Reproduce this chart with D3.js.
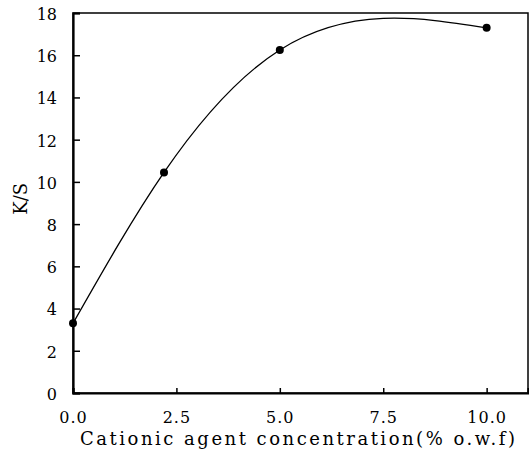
<!DOCTYPE html>
<html>
<head>
<meta charset="utf-8">
<script src="https://cdn.jsdelivr.net/npm/d3@7"></script>
<style>
  body { margin: 0; background: #fff; }
  text { font-family: "DejaVu Serif", serif; fill: #000; }
</style>
</head>
<body>
<svg id="chart" width="529" height="452"></svg>
<script>
// data
var concentration = [0.0, 2.2, 5.0, 10.0];
var ks = [3.3, 10.45, 16.25, 17.3];
var xTicks = [0, 2.5, 5, 7.5, 10];
var yTicks = [0, 2, 4, 6, 8, 10, 12, 14, 16, 18];

var margin = {top: 13, right: 1, bottom: 59, left: 73},
    width = 529 - margin.left - margin.right,
    height = 452 - margin.top - margin.bottom;

// natural cubic spline in y(x), drawn as bezier pieces (like curveMonotoneX)
function curveNaturalX(context) {
  var xs, ys;
  return {
    areaStart: function(){}, areaEnd: function(){},
    lineStart: function(){ xs = []; ys = []; },
    point: function(x, y){ xs.push(+x); ys.push(+y); },
    lineEnd: function(){
      var n = xs.length, i;
      if (!n) return;
      context.moveTo(xs[0], ys[0]);
      if (n < 3) { for (i = 1; i < n; i++) context.lineTo(xs[i], ys[i]); return; }
      var h = [], s = [];
      for (i = 0; i < n - 1; i++) { h[i] = xs[i+1] - xs[i]; s[i] = (ys[i+1] - ys[i]) / h[i]; }
      // tridiagonal solve for second derivatives, M[0] = M[n-1] = 0
      var M = new Array(n).fill(0), a = [], b = [], c = [], r = [];
      for (i = 1; i < n - 1; i++) {
        a[i] = h[i-1]; b[i] = 2 * (h[i-1] + h[i]); c[i] = h[i]; r[i] = 6 * (s[i] - s[i-1]);
      }
      for (i = 2; i < n - 1; i++) {
        var w = a[i] / b[i-1];
        b[i] -= w * c[i-1]; r[i] -= w * r[i-1];
      }
      for (i = n - 2; i >= 1; i--) M[i] = (r[i] - (i < n - 2 ? c[i] * M[i+1] : 0)) / b[i];
      for (i = 0; i < n - 1; i++) {
        var m0 = s[i] - h[i] * (2 * M[i] + M[i+1]) / 6,
            m1 = s[i] + h[i] * (M[i] + 2 * M[i+1]) / 6,
            dx = h[i] / 3;
        context.bezierCurveTo(xs[i] + dx, ys[i] + m0 * dx, xs[i+1] - dx, ys[i+1] - m1 * dx, xs[i+1], ys[i+1]);
      }
    }
  };
}

var svg = d3.select("#chart")
  .append("g")
    .attr("transform", "translate(" + margin.left + "," + margin.top + ")");

var x = d3.scaleLinear().domain([0, 11]).range([0, width]);
var y = d3.scaleLinear().domain([0, 18]).range([height, 0]);

// frame
svg.append("rect")
  .attr("x", 0).attr("y", 0)
  .attr("width", width).attr("height", height)
  .attr("fill", "none")
  .attr("stroke", "#000")
  .attr("stroke-width", 1.5);

// bottom axis, ticks point inward
var xAxis = svg.append("g")
  .attr("transform", "translate(0," + height + ")")
  .call(d3.axisBottom(x).tickValues(xTicks).tickSize(-5).tickPadding(19)
    .tickFormat(d3.format(".1f")));
xAxis.select(".domain").attr("stroke-width", 2.2);
xAxis.selectAll("text")
  .style("font-size", "16px")
  .style("letter-spacing", "1px");

// left axis
var yAxis = svg.append("g")
  .call(d3.axisLeft(y).tickValues(yTicks).tickSize(-7).tickPadding(16)
    .tickFormat(d3.format("d")));
yAxis.select(".domain").attr("stroke-width", 2.2);
yAxis.selectAll("text")
  .style("font-size", "16px")
  .attr("dy", "0.4em");
yAxis.selectAll(".tick line").attr("stroke-width", 1.5);
xAxis.selectAll(".tick line").attr("stroke-width", 1.5);

// curve through the points
var pts = concentration.map(function(c, i){ return [c, ks[i]]; });
var line = d3.line()
  .x(function(d){ return x(d[0]); })
  .y(function(d){ return y(d[1]); })
  .curve(curveNaturalX);

svg.append("path")
  .datum(pts)
  .attr("d", line)
  .attr("fill", "none")
  .attr("stroke", "#000")
  .attr("stroke-width", 1.3);

svg.selectAll("circle.pt")
  .data(pts)
  .enter()
  .append("circle")
    .attr("class", "pt")
    .attr("cx", function(d){ return x(d[0]); })
    .attr("cy", function(d){ return y(d[1]); })
    .attr("r", 4)
    .attr("fill", "#000");

// axis titles
svg.append("text")
  .text("Cationic agent concentration(% o.w.f)")
  .attr("x", 7)
  .attr("y", height + 52)
  .attr("textLength", 435)
  .attr("lengthAdjust", "spacing")
  .style("font-size", "18px");

svg.append("text")
  .text("K/S")
  .attr("transform", "translate(" + (-46) + "," + y(9.2) + ") rotate(-90)")
  .attr("text-anchor", "middle")
  .style("font-size", "18px");
</script>
</body>
</html>
